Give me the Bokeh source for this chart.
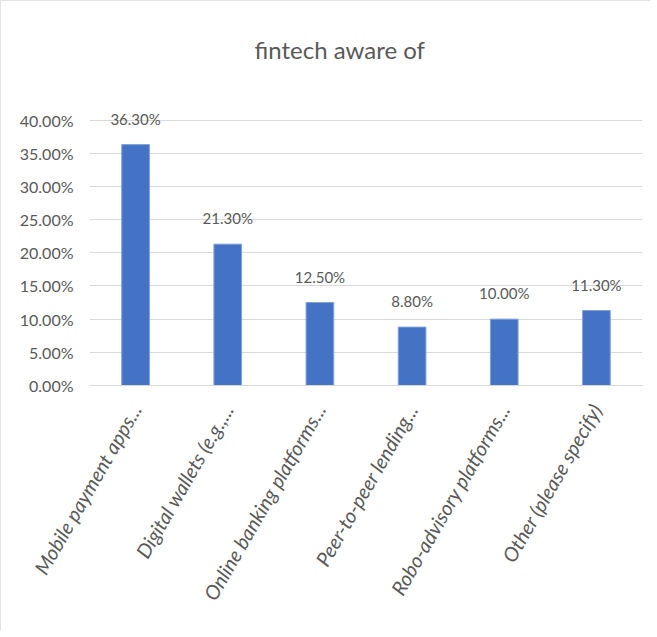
from bokeh.plotting import figure
from bokeh.models import NumeralTickFormatter, FixedTicker, ColumnDataSource, Range1d
from bokeh.core.properties import value
from bokeh.embed import file_html
from bokeh.resources import INLINE
import math

categories = ["Mobile payment apps...", "Digital wallets (e.g.,...", "Online banking platforms...",
              "Peer-to-peer lending...", "Robo-advisory platforms...", "Other (please specify)"]
values = [0.363, 0.213, 0.125, 0.088, 0.100, 0.113]
value_labels = ["36.30%", "21.30%", "12.50%", "8.80%", "10.00%", "11.30%"]
y_ticks = [0.0, 0.05, 0.10, 0.15, 0.20, 0.25, 0.30, 0.35, 0.40]

FONT = "Lato"
GREY = "#595959"

src = ColumnDataSource(dict(cat=categories, val=values, lab=value_labels))

p = figure(x_range=categories, y_range=Range1d(0, 0.44), width=650, height=630,
           output_backend="svg", toolbar_location=None,
           min_border_left=88, min_border_right=9, min_border_top=92, min_border_bottom=246)
p.styles = {"border-left": "1px solid #e3e3e3", "border-top": "1px solid #e3e3e3"}

p.title.text = "fintech aware of"
p.title.align = "left"
p.title.offset = 165
p.title.text_font = FONT
p.title.text_font_size = "24px"
p.title.text_font_style = "normal"
p.title.text_color = GREY
p.title.standoff = 59

p.vbar(x="cat", top="val", width=0.3, source=src, fill_color="#4472C4", line_color="#7ea0dc", line_width=1)
p.text(x="cat", y="val", text="lab", source=src, text_align="center", text_baseline="bottom",
       y_offset=-17, text_font=value(FONT), text_font_size="15px", text_color=GREY)

p.yaxis.ticker = FixedTicker(ticks=y_ticks)
p.yaxis.formatter = NumeralTickFormatter(format="0.00%")
p.yaxis.axis_line_color = None
p.yaxis.major_tick_line_color = None
p.yaxis.minor_tick_line_color = None
p.yaxis.major_label_standoff = 10
p.yaxis.major_label_text_font = FONT
p.yaxis.major_label_text_font_size = "16px"
p.yaxis.major_label_text_color = GREY

p.xaxis.axis_line_color = "#d9d9d9"
p.xaxis.major_tick_line_color = None
p.xaxis.minor_tick_line_color = None
p.xaxis.major_label_orientation = math.radians(60)
p.xaxis.major_label_standoff = 14
p.xaxis.major_label_text_font = FONT
p.xaxis.major_label_text_font_size = "20px"
p.xaxis.major_label_text_font_style = "italic"
p.xaxis.major_label_text_color = GREY

p.xgrid.grid_line_color = None
p.ygrid.ticker = FixedTicker(ticks=y_ticks)
p.ygrid.grid_line_color = "#d9d9d9"
p.outline_line_color = None
p.x_range.range_padding = 0

open("out.html", "w").write(file_html(p, INLINE))
